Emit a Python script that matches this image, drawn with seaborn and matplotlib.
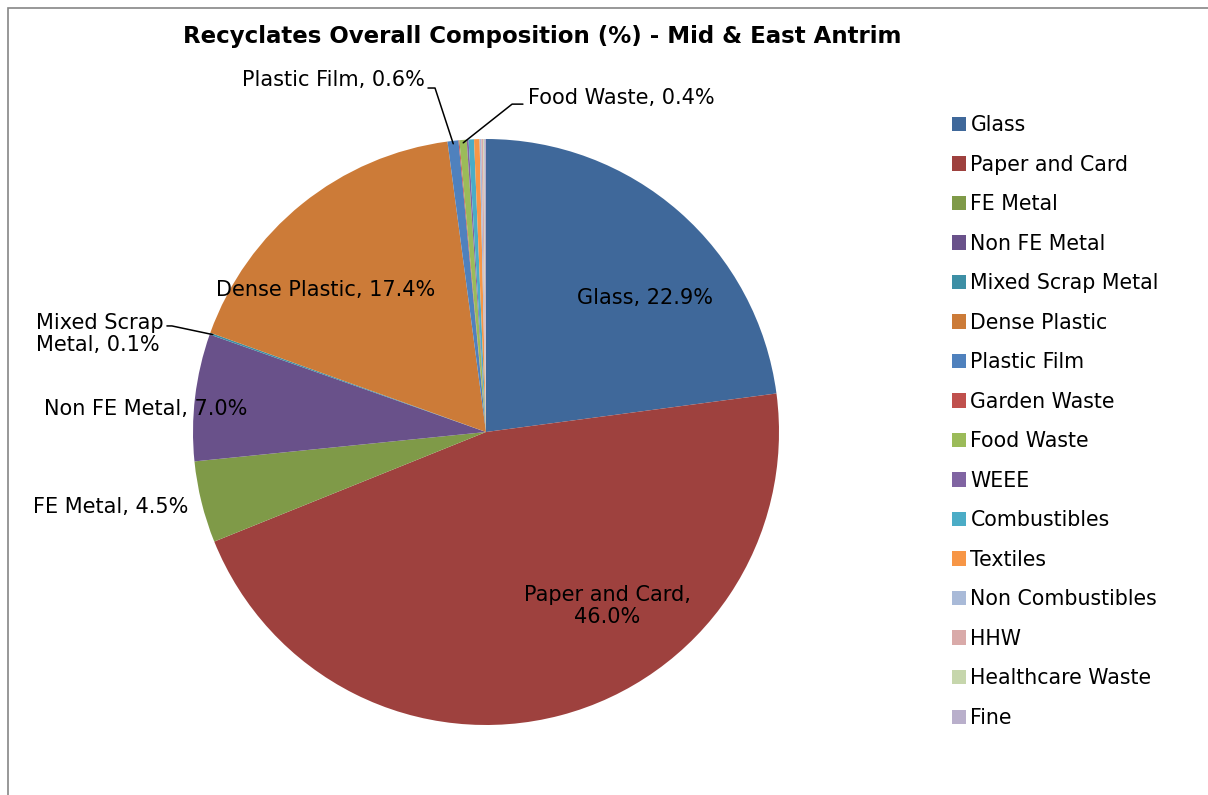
import matplotlib

matplotlib.use("Agg")
import matplotlib.pyplot as plt
import numpy as np
import seaborn as sns
from matplotlib.patches import Rectangle

categories = [
    "Glass", "Paper and Card", "FE Metal", "Non FE Metal", "Mixed Scrap Metal",
    "Dense Plastic", "Plastic Film", "Garden Waste", "Food Waste", "WEEE",
    "Combustibles", "Textiles", "Non Combustibles", "HHW", "Healthcare Waste", "Fine",
]
shares = [22.9, 46.0, 4.5, 7.0, 0.1, 17.4, 0.6, 0.05, 0.4, 0.1, 0.3, 0.3, 0.1, 0.1, 0.05, 0.1]
colors = [
    "#3F689A", "#9E413E", "#7F9A48", "#69518A", "#3D8FA5", "#CC7B38",
    "#4F81BD", "#C0504D", "#9BBB59", "#8064A2", "#4BACC6", "#F79646",
    "#A9BAD8", "#D9AAA9", "#C6D6AC", "#B9AFCB",
]

# label text, anchor in data coords, alignment
labels = {
    "Glass": ("Glass, 22.9%", (0.543, 0.457), "center"),
    "Paper and Card": ("Paper and Card,\n46.0%", (0.413, -0.594), "center"),
    "FE Metal": ("FE Metal, 4.5%", (-1.280, -0.256), "center"),
    "Non FE Metal": ("Non FE Metal, 7.0%", (-1.160, 0.078), "center"),
    "Mixed Scrap Metal": ("Mixed Scrap\nMetal, 0.1%", (-1.536, 0.334), "left"),
    "Dense Plastic": ("Dense Plastic, 17.4%", (-0.546, 0.485), "center"),
    "Plastic Film": ("Plastic Film, 0.6%", (-0.208, 1.201), "right"),
    "Food Waste": ("Food Waste, 0.4%", (0.143, 1.140), "left"),
}
# leader line start (near text) for the small slices
leaders = {
    "Mixed Scrap Metal": [(-1.089, 0.362), (-1.072, 0.362)],
    "Plastic Film": [(-0.198, 1.174), (-0.174, 1.174)],
    "Food Waste": [(0.126, 1.119), (0.089, 1.119)],
}

sns.set_theme(style="white")
plt.rcParams["font.family"] = ["DejaVu Sans"]
plt.rcParams["text.color"] = "black"

W, H = 1208, 795
fig = plt.figure(figsize=(W / 100, H / 100), dpi=100, facecolor="white")
cx, cy, r = 486, 432, 293
ax = fig.add_axes([(cx - r) / W, (H - cy - r) / H, 2 * r / W, 2 * r / H])

wedges, _ = ax.pie(
    shares,
    colors=colors,
    startangle=90,
    counterclock=False,
    radius=1,
    wedgeprops=dict(linewidth=0, edgecolor="none"),
)
ax.set_xlim(-1, 1)
ax.set_ylim(-1, 1)
ax.set_aspect("equal")
ax.axis("off")

for w, name in zip(wedges, categories):
    if name not in labels:
        continue
    text, (tx, ty), ha = labels[name]
    ax.text(tx, ty, text, ha=ha, va="center", fontsize=15, color="black",
            linespacing=1.15, clip_on=False)
    if name in leaders:
        mid = np.deg2rad((w.theta1 + w.theta2) / 2)
        end = (0.99 * np.cos(mid), 0.99 * np.sin(mid))
        pts = leaders[name] + [end]
        xs, ys = zip(*pts)
        ax.plot(xs, ys, color="black", lw=1.1, clip_on=False)

fig.text(542 / W, 1 - 37 / H, "Recyclates Overall Composition (%) - Mid & East Antrim",
         ha="center", va="center", fontsize=16.5, fontweight="bold", color="black")

leg = fig.legend(
    wedges, categories,
    loc="upper left",
    bbox_to_anchor=(952 / W, 1 - 115 / H),
    frameon=False,
    fontsize=14.8,
    handlelength=0.7,
    handleheight=0.7,
    handletextpad=0.2,
    labelspacing=0.95,
    borderaxespad=0,
    borderpad=0,
)
for t in leg.get_texts():
    t.set_color("black")

fig.patches.append(Rectangle((8 / W, -0.1), 1.2, 1 - 8 / H + 0.1, transform=fig.transFigure,
                             fill=False, edgecolor="#868686", lw=1.2))

fig.savefig("out.png", dpi=100, facecolor="white")
